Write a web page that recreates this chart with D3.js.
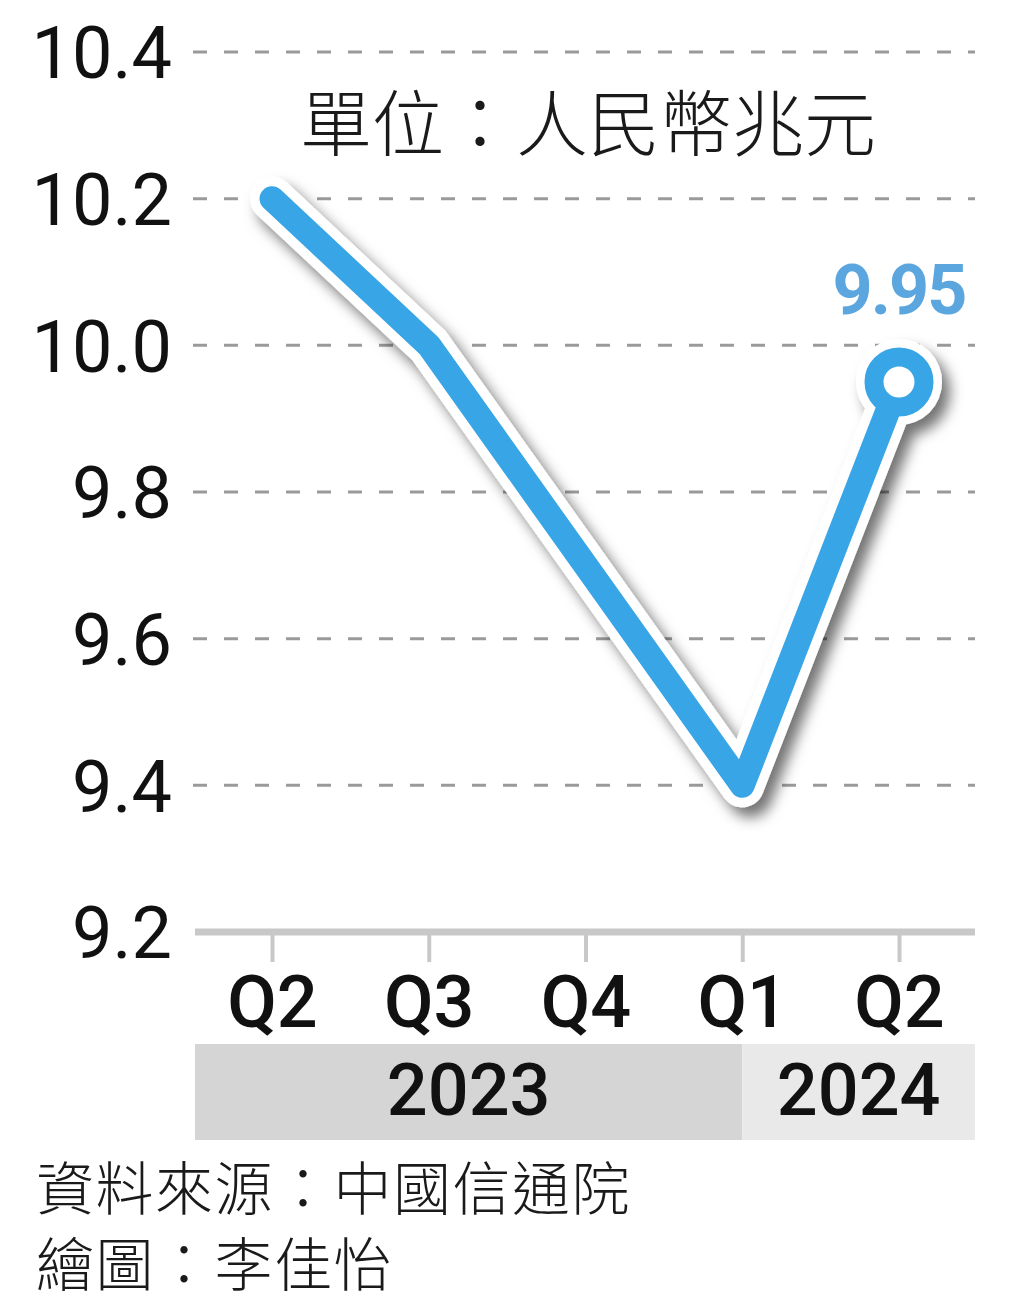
<!DOCTYPE html>
<html>
<head>
<meta charset="utf-8">
<script src="https://cdn.jsdelivr.net/npm/d3@7"></script>
<style>
  body { margin: 0; background: #fff; }
  svg { display: block; }
</style>
</head>
<body>
<div id="chart"></div>
<script>
// data
var periods = ["2023Q2", "2023Q3", "2023Q4", "2024Q1", "2024Q2"];
var quarterLabels = ["Q2", "Q3", "Q4", "Q1", "Q2"];
var values = [10.2, 10.0, 9.7, 9.4, 9.95];
var yTicks = [9.2, 9.4, 9.6, 9.8, 10.0, 10.2, 10.4];
var years = ["2023", "2024"];
var yearStarts = ["2023Q2", "2024Q1"];

var unitText = "單位：人民幣兆元";
var sourceText = "資料來源：中國信通院";
var authorText = "繪圖：李佳怡";

var W = 1024, H = 1316;
var plotLeft = 195, plotRight = 975;
var blue = "#38a5e6";

var svg = d3.select("#chart").append("svg")
    .attr("width", W)
    .attr("height", H);

var defs = svg.append("defs");
var shadow = defs.append("filter")
    .attr("id", "shadow")
    .attr("x", "-20%").attr("y", "-20%")
    .attr("width", "140%").attr("height", "140%");
shadow.append("feDropShadow")
    .attr("dx", 8).attr("dy", 10)
    .attr("stdDeviation", 7)
    .attr("flood-color", "#000")
    .attr("flood-opacity", 0.55);

var x = d3.scalePoint()
    .domain(periods)
    .range([272, 899]);

var y = d3.scaleLinear()
    .domain([9.2, 10.4])
    .range([932, 52]);

// dashed grid lines
svg.append("g")
    .selectAll("line")
    .data(yTicks.filter(function (d) { return d > 9.2; }))
    .enter()
    .append("line")
    .attr("x1", plotLeft - 2)
    .attr("x2", plotRight)
    .attr("y1", function (d) { return y(d); })
    .attr("y2", function (d) { return y(d); })
    .attr("stroke", "#9a9a9a")
    .attr("stroke-width", 3)
    .attr("stroke-dasharray", "14,17");

// y labels
var yAxis = svg.append("g")
    .attr("transform", "translate(172,0)")
    .call(d3.axisLeft(y).tickValues(yTicks).tickSize(0).tickPadding(0)
        .tickFormat(d3.format(".1f")));
yAxis.select(".domain").remove();
yAxis.selectAll("text")
    .attr("dy", "0.36em")
    .style("font-family", "Roboto")
    .style("font-size", "72px")
    .style("fill", "#111");

// unit
svg.append("text")
    .attr("x", 300)
    .attr("y", 150)
    .style("font-family", "'Noto Sans CJK TC'")
    .style("font-size", "72px")
    .style("font-weight", 300)
    .style("fill", "#1a1a1a")
    .text(unitText);

// base axis
svg.append("line")
    .attr("x1", plotLeft).attr("x2", plotRight)
    .attr("y1", y(9.2)).attr("y2", y(9.2))
    .attr("stroke", "#c8c8c8")
    .attr("stroke-width", 7);

var xAxis = svg.append("g")
    .attr("transform", "translate(0," + y(9.2) + ")")
    .call(d3.axisBottom(x).tickSize(30).tickPadding(14)
        .tickFormat(function (d, i) { return quarterLabels[i]; }));
xAxis.select(".domain").remove();
xAxis.selectAll("line")
    .attr("stroke", "#c8c8c8")
    .attr("stroke-width", 4);
xAxis.selectAll("text")
    .attr("dy", "0.71em")
    .style("font-family", "Roboto")
    .style("font-weight", 500)
    .style("font-size", "72px")
    .style("fill", "#111");

// year bands
var bandTop = 1044, bandBottom = 1140;
var bandColors = ["#d5d5d5", "#e9e9e9"];
var bandEdges = yearStarts.map(function (d, i) { return i === 0 ? plotLeft : x(d); }).concat([plotRight]);

var bands = svg.append("g")
    .selectAll("g")
    .data(years)
    .enter()
    .append("g");
bands.append("rect")
    .attr("x", function (d, i) { return bandEdges[i]; })
    .attr("y", bandTop)
    .attr("width", function (d, i) { return bandEdges[i + 1] - bandEdges[i]; })
    .attr("height", bandBottom - bandTop)
    .attr("fill", function (d, i) { return bandColors[i]; });
bands.append("text")
    .attr("x", function (d, i) { return (bandEdges[i] + bandEdges[i + 1]) / 2; })
    .attr("y", 1115)
    .attr("text-anchor", "middle")
    .style("font-family", "Roboto")
    .style("font-weight", 500)
    .style("font-size", "72px")
    .style("fill", "#111")
    .text(function (d) { return d; });

// the line
var pts = periods.map(function (p, i) { return [x(p), y(values[i])]; });
var line = d3.line();
var last = pts[pts.length - 1];

var casing = svg.append("g").attr("filter", "url(#shadow)");
casing.append("path")
    .attr("d", line(pts))
    .attr("fill", "none")
    .attr("stroke", "#fff")
    .attr("stroke-width", 44)
    .attr("stroke-linejoin", "round")
    .attr("stroke-linecap", "round");
casing.append("circle")
    .attr("cx", last[0]).attr("cy", last[1])
    .attr("r", 43)
    .attr("fill", "#fff");

svg.append("path")
    .attr("d", line(pts))
    .attr("fill", "none")
    .attr("stroke", blue)
    .attr("stroke-width", 25)
    .attr("stroke-linejoin", "round")
    .attr("stroke-linecap", "round");

svg.append("circle")
    .attr("cx", last[0]).attr("cy", last[1])
    .attr("r", 25)
    .attr("fill", "#fff")
    .attr("stroke", blue)
    .attr("stroke-width", 19);

svg.append("text")
    .attr("x", last[0])
    .attr("y", 314)
    .attr("text-anchor", "middle")
    .style("font-family", "Roboto")
    .style("font-weight", 700)
    .style("font-size", "70px")
    .style("letter-spacing", "-2px")
    .style("fill", "#5ba6de")
    .text(d3.format(".2f")(values[values.length - 1]));

// footer
svg.append("text")
    .attr("x", 36).attr("y", 1210)
    .style("font-family", "'Noto Sans CJK TC'")
    .style("font-size", "58px")
    .style("font-weight", 300)
    .style("letter-spacing", "1.5px")
    .style("fill", "#1a1a1a")
    .text(sourceText);
svg.append("text")
    .attr("x", 36).attr("y", 1286)
    .style("font-family", "'Noto Sans CJK TC'")
    .style("font-size", "58px")
    .style("font-weight", 300)
    .style("letter-spacing", "1.5px")
    .style("fill", "#1a1a1a")
    .text(authorText);
</script>
</body>
</html>
